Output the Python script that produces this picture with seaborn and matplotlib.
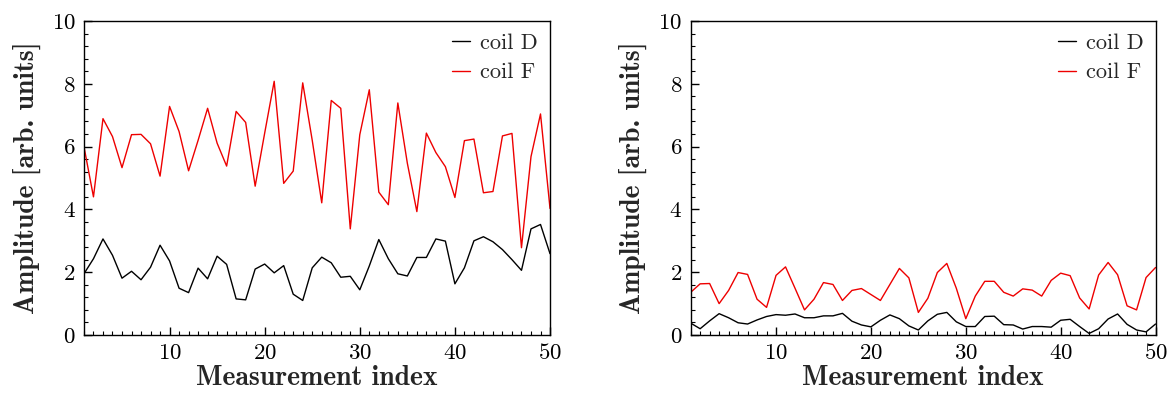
import numpy as np
import pandas as pd
import matplotlib
matplotlib.use("Agg")
import matplotlib.pyplot as plt
import seaborn as sns
from matplotlib.ticker import MultipleLocator, AutoMinorLocator

index = list(range(1, 51))

left_coil_d = [1.95, 2.43, 3.06, 2.54, 1.81, 2.03, 1.76, 2.16, 2.86, 2.36,
               1.49, 1.35, 2.13, 1.79, 2.51, 2.25, 1.15, 1.12, 2.10, 2.26,
               1.98, 2.21, 1.30, 1.10, 2.14, 2.48, 2.30, 1.84, 1.87, 1.44,
               2.20, 3.04, 2.43, 1.95, 1.88, 2.47, 2.47, 3.06, 2.99, 1.63,
               2.14, 3.00, 3.13, 2.97, 2.72, 2.40, 2.06, 3.38, 3.52, 2.59]
left_coil_f = [6.00, 4.40, 6.89, 6.32, 5.33, 6.38, 6.39, 6.09, 5.06, 7.28,
               6.48, 5.23, 6.20, 7.22, 6.11, 5.38, 7.12, 6.77, 4.74, 6.43,
               8.08, 4.83, 5.22, 8.03, 6.20, 4.21, 7.47, 7.22, 3.38, 6.38,
               7.81, 4.55, 4.15, 7.39, 5.47, 3.93, 6.43, 5.81, 5.36, 4.38,
               6.19, 6.24, 4.53, 4.57, 6.34, 6.42, 2.78, 5.68, 7.04, 4.03]

right_coil_d = [0.38, 0.20, 0.45, 0.68, 0.55, 0.39, 0.35, 0.48, 0.59, 0.65,
                0.63, 0.67, 0.55, 0.55, 0.61, 0.61, 0.69, 0.44, 0.32, 0.26,
                0.47, 0.64, 0.52, 0.29, 0.16, 0.45, 0.66, 0.72, 0.42, 0.27,
                0.27, 0.59, 0.60, 0.33, 0.32, 0.19, 0.27, 0.27, 0.25, 0.47,
                0.50, 0.27, 0.05, 0.20, 0.51, 0.67, 0.34, 0.16, 0.10, 0.35]
right_coil_f = [1.36, 1.63, 1.64, 1.00, 1.42, 1.99, 1.93, 1.14, 0.88, 1.90,
                2.17, 1.49, 0.80, 1.14, 1.67, 1.61, 1.10, 1.42, 1.48, 1.29,
                1.10, 1.61, 2.12, 1.82, 0.72, 1.17, 1.99, 2.28, 1.49, 0.52,
                1.24, 1.71, 1.71, 1.36, 1.24, 1.47, 1.43, 1.24, 1.74, 1.97,
                1.89, 1.18, 0.83, 1.91, 2.31, 1.92, 0.93, 0.80, 1.83, 2.15]

series_names = ["coil D", "coil F"]
palette = {"coil D": "#000000", "coil F": "#ee0000"}

sns.set_style("ticks")
plt.rcParams["font.family"] = ["cmr10", "DejaVu Serif"]
plt.rcParams["axes.formatter.use_mathtext"] = True
plt.rcParams["axes.unicode_minus"] = False
plt.rcParams["axes.linewidth"] = 1.0
plt.rcParams["axes.edgecolor"] = "black"


def long_frame(d_vals, f_vals):
    return pd.DataFrame({
        "index": index * 2,
        "amplitude": d_vals + f_vals,
        "coil": [series_names[0]] * len(d_vals) + [series_names[1]] * len(f_vals),
    })


fig = plt.figure(figsize=(11.71, 3.94), dpi=100)
ax_left = fig.add_axes([0.0717, 0.1497, 0.398, 0.797])
ax_right = fig.add_axes([0.5898, 0.1497, 0.397, 0.797])

panels = [(ax_left, left_coil_d, left_coil_f), (ax_right, right_coil_d, right_coil_f)]

for ax, d_vals, f_vals in panels:
    sns.lineplot(data=long_frame(d_vals, f_vals), x="index", y="amplitude",
                 hue="coil", palette=palette, linewidth=1.0, ax=ax)
    ax.set_xlim(1, 50)
    ax.set_ylim(0, 10)
    ax.xaxis.set_major_locator(MultipleLocator(10))
    ax.xaxis.set_minor_locator(MultipleLocator(1))
    ax.yaxis.set_major_locator(MultipleLocator(2))
    ax.yaxis.set_minor_locator(AutoMinorLocator(5))
    ax.tick_params(which="both", direction="in", top=False, right=False,
                   labelsize=16.5, colors="black")
    ax.tick_params(which="major", length=6, width=1.0, pad=6)
    ax.tick_params(which="minor", length=3, width=0.8)
    ax.set_xlabel("Measurement index", fontsize=20, family="cmb10", labelpad=1)
    ax.set_ylabel("Amplitude [arb. units]", fontsize=20, family="cmb10", labelpad=8)
    for side in ax.spines.values():
        side.set_visible(True)
        side.set_linewidth(1.0)
    leg = ax.legend(loc="upper right", frameon=False, fontsize=16,
                    handlelength=0.8, handletextpad=0.45, labelspacing=0.45,
                    borderaxespad=0.0, borderpad=0.55)
    for line in leg.get_lines():
        line.set_linewidth(1.0)

fig.savefig("out.png", dpi=100)
